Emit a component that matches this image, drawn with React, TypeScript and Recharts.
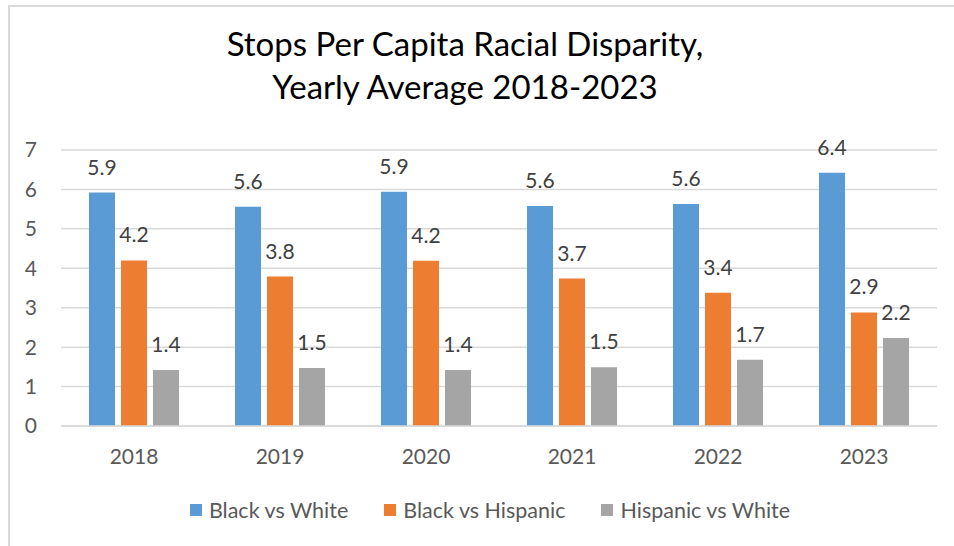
import React from "react";
import { BarChart, Bar, XAxis, YAxis, CartesianGrid, Legend, LabelList } from "recharts";

const years = ["2018", "2019", "2020", "2021", "2022", "2023"];
const blackVsWhite = [5.92, 5.56, 5.94, 5.58, 5.63, 6.42];
const blackVsHispanic = [4.2, 3.79, 4.19, 3.74, 3.38, 2.88];
const hispanicVsWhite = [1.42, 1.47, 1.42, 1.49, 1.68, 2.23];
const yTicks = [0, 1, 2, 3, 4, 5, 6, 7];

const series = [
  { key: "bw", name: "Black vs White", color: "#5B9BD5", values: blackVsWhite },
  { key: "bh", name: "Black vs Hispanic", color: "#ED7D31", values: blackVsHispanic },
  { key: "hw", name: "Hispanic vs White", color: "#A5A5A5", values: hispanicVsWhite },
];

const data = years.map((y, i) => {
  const row: any = { year: y };
  series.forEach((s) => (row[s.key] = s.values[i]));
  return row;
});

const FONT = "Lato, 'Open Sans', sans-serif";

const LegendContent = () => (
  <div
    style={{
      display: "flex",
      justifyContent: "center",
      alignItems: "center",
      height: 26,
      paddingLeft: 26,
      fontFamily: FONT,
      fontSize: 21.5,
      color: "#595959",
    }}
  >
    {series.map((s, i) => (
      <div key={s.key} style={{ display: "flex", alignItems: "center", marginLeft: i === 0 ? 0 : 36 }}>
        <div style={{ width: 12, height: 12, background: s.color, marginRight: 7 }} />
        <span>{s.name}</span>
      </div>
    ))}
  </div>
);

export default function App() {
  return (
    <div style={{ position: "absolute", left: 0, top: 0, width: 954, height: 546, background: "#fff", overflow: "hidden" }}>
      <div
        style={{
          position: "absolute",
          left: 8,
          top: 5,
          width: 960,
          height: 560,
          borderLeft: "2px solid #D9D9D9",
          borderTop: "2px solid #D9D9D9",
        }}
      />
      <div
        style={{
          position: "absolute",
          left: 0,
          width: 930,
          top: 22,
          textAlign: "center",
          fontFamily: FONT,
          fontSize: 33,
          lineHeight: "43px",
          color: "#000",
        }}
      >
        Stops Per Capita Racial Disparity,
        <br />
        Yearly Average 2018-2023
      </div>
      <div style={{ position: "absolute", left: 0, top: 0 }}>
        <BarChart
          width={954}
          height={546}
          data={data}
          margin={{ top: 150, right: 17, left: 21, bottom: 64 }}
          barSize={26}
          barGap={6}
        >
          <CartesianGrid horizontal vertical={false} stroke="#D9D9D9" strokeWidth={1.5} />
          <XAxis
            dataKey="year"
            axisLine={{ stroke: "#D9D9D9", strokeWidth: 1.5 }}
            tickLine={false}
            tickMargin={17}
            height={30}
            tick={{ fill: "#595959", fontSize: 21, fontFamily: FONT }}
          />
          <YAxis
            domain={[0, 7]}
            ticks={yTicks}
            width={40}
            axisLine={false}
            tickLine={false}
            tickMargin={18}
            tick={{ fill: "#595959", fontSize: 21, fontFamily: FONT }}
          />
          <Legend verticalAlign="bottom" content={<LegendContent />} wrapperStyle={{ left: 0, width: 954, bottom: 23 }} />
          {series.map((s) => (
            <Bar key={s.key} dataKey={s.key} name={s.name} fill={s.color} isAnimationActive={false}>
              <LabelList
                dataKey={s.key}
                position="top"
                offset={18}
                formatter={(v: any) => Number(v).toFixed(1)}
                style={{ fill: "#404040", fontSize: 21, fontFamily: FONT }}
              />
            </Bar>
          ))}
        </BarChart>
      </div>
    </div>
  );
}
